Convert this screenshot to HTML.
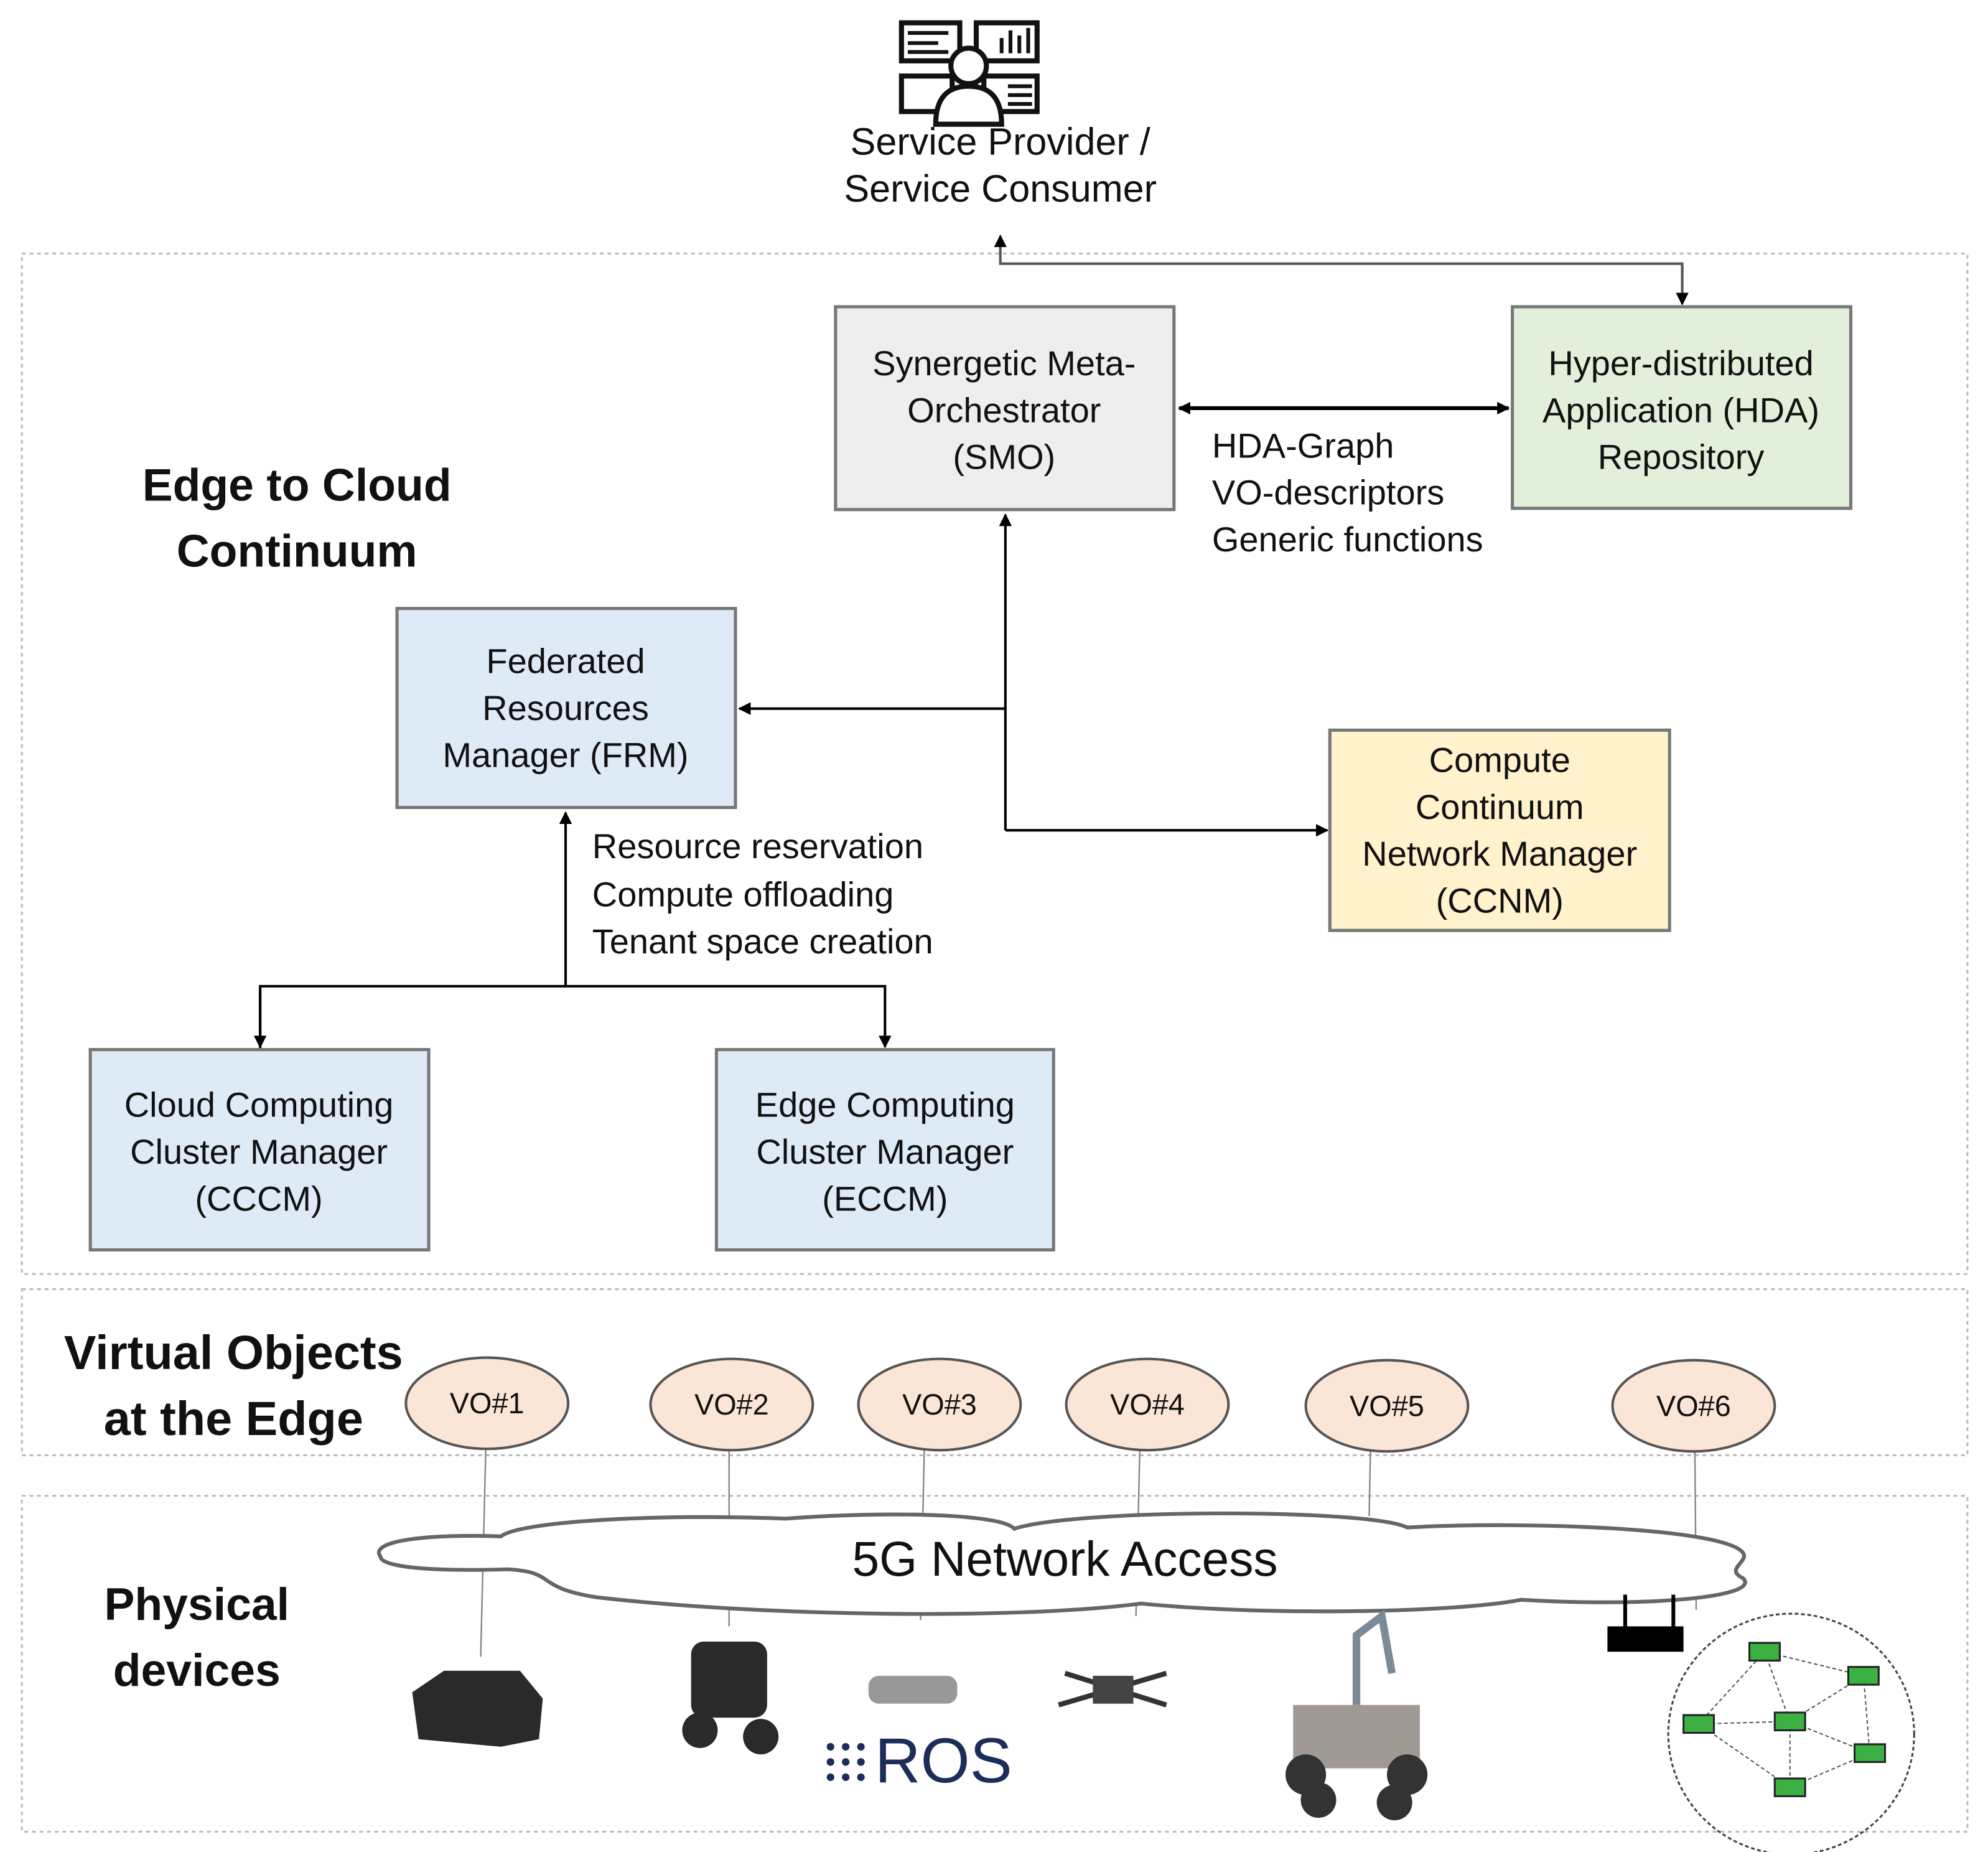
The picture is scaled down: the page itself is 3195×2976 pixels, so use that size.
<!DOCTYPE html>
<html><head><meta charset="utf-8"><style>
html,body{margin:0;padding:0;background:#fff}
svg{display:block}
text{font-family:"Liberation Sans",sans-serif;fill:#111}
.b{font-size:27.5px;text-anchor:middle}
.l{font-size:27.5px}
.h{font-size:36px;font-weight:bold;text-anchor:middle}
</style></head><body>
<svg width="3195" height="2976" viewBox="0 0 1568 1461" xmlns="http://www.w3.org/2000/svg">
<defs>
<marker id="a" markerWidth="10" markerHeight="10" refX="9" refY="5" orient="auto" markerUnits="userSpaceOnUse"><path d="M0,0 L10,5 L0,10 z" fill="#000"/></marker>
</defs>
<g fill="none" stroke="#bbb" stroke-width="1.5" stroke-dasharray="3,3">
<rect x="17" y="200" width="1535" height="805"/>
<rect x="17" y="1017" width="1535" height="131"/>
<rect x="17" y="1180" width="1535" height="265"/>
</g>
<g fill="none" stroke="#111" stroke-width="4">
<rect x="711" y="18" width="46" height="30"/>
<rect x="770" y="18" width="48" height="30"/>
<rect x="711" y="60" width="40" height="28"/>
<rect x="776" y="60" width="42" height="28"/>
<circle cx="764" cy="52" r="14" fill="#fff"/>
<path d="M738,98 Q738,68 764,68 Q790,68 790,98 Z" fill="#fff"/>
</g>
<g stroke="#111" stroke-width="3"><line x1="716" y1="26" x2="748" y2="26"/><line x1="716" y1="34" x2="740" y2="34"/><line x1="716" y1="41" x2="748" y2="41"/>
<line x1="790" y1="42" x2="790" y2="30"/><line x1="797" y1="42" x2="797" y2="24"/><line x1="804" y1="42" x2="804" y2="28"/><line x1="811" y1="42" x2="811" y2="22"/>
<line x1="795" y1="68" x2="814" y2="68"/><line x1="795" y1="75" x2="814" y2="75"/><line x1="795" y1="82" x2="814" y2="82"/></g>
<text class="b" x="789" y="122" style="font-size:30px">Service Provider /</text>
<text class="b" x="789" y="159" style="font-size:30px">Service Consumer</text>
<g stroke="#000" stroke-width="2" fill="none">
<path d="M1327,230 L1327,208 L789,208 L789,186" marker-end="url(#a)" stroke="#555"/>
<path d="M1327,210 L1327,240" marker-end="url(#a)" stroke="#555"/>
<line x1="940" y1="322" x2="1190" y2="322" marker-end="url(#a)" stroke-width="3"/>
<line x1="1180" y1="322" x2="930" y2="322" marker-end="url(#a)" stroke-width="3"/>
<path d="M793,655 L793,406" marker-end="url(#a)"/>
<path d="M793,559 L583,559" marker-end="url(#a)"/>
<path d="M793,655 L1047,655" marker-end="url(#a)"/>
<path d="M446,778 L446,641" marker-end="url(#a)"/>
<path d="M205,828 L205,778 L698,778 L698,826" marker-end="url(#a)"/>
<path d="M205,780 L205,826" marker-end="url(#a)"/>
</g>
<g stroke="#777" stroke-width="2.5">
<rect x="659" y="242" width="267" height="160" fill="#eeeeee"/>
<rect x="1193" y="242" width="267" height="159" fill="#e2efda"/>
<rect x="313" y="480" width="267" height="157" fill="#deebf7"/>
<rect x="1049" y="576" width="268" height="158" fill="#fff2cc"/>
<rect x="71" y="828" width="267" height="158" fill="#deebf7"/>
<rect x="565" y="828" width="266" height="158" fill="#deebf7"/>
</g>
<text class="b" x="792" y="296">Synergetic Meta-</text><text class="b" x="792" y="333">Orchestrator</text><text class="b" x="792" y="370">(SMO)</text>
<text class="b" x="1326" y="296">Hyper-distributed</text><text class="b" x="1326" y="333">Application (HDA)</text><text class="b" x="1326" y="370">Repository</text>
<text class="l" x="956" y="361">HDA-Graph</text><text class="l" x="956" y="398">VO-descriptors</text><text class="l" x="956" y="435">Generic functions</text>
<text class="h" x="234" y="395">Edge to Cloud</text><text class="h" x="234" y="447">Continuum</text>
<text class="b" x="446" y="531">Federated</text><text class="b" x="446" y="568">Resources</text><text class="b" x="446" y="605">Manager (FRM)</text>
<text class="b" x="1183" y="609">Compute</text><text class="b" x="1183" y="646">Continuum</text><text class="b" x="1183" y="683">Network Manager</text><text class="b" x="1183" y="720">(CCNM)</text>
<text class="l" x="467" y="677">Resource reservation</text><text class="l" x="467" y="715">Compute offloading</text><text class="l" x="467" y="752">Tenant space creation</text>
<text class="b" x="204" y="881">Cloud Computing</text><text class="b" x="204" y="918">Cluster Manager</text><text class="b" x="204" y="955">(CCCM)</text>
<text class="b" x="698" y="881">Edge Computing</text><text class="b" x="698" y="918">Cluster Manager</text><text class="b" x="698" y="955">(ECCM)</text>
<text class="h" x="184" y="1080" style="font-size:38px">Virtual Objects</text><text class="h" x="184" y="1132" style="font-size:38px">at the Edge</text>
<text class="h" x="155" y="1278">Physical</text><text class="h" x="155" y="1330">devices</text>
<g stroke="#888" stroke-width="1.2">
<line x1="383" y1="1144" x2="379" y2="1307"/><line x1="575" y1="1144" x2="575" y2="1283"/>
<line x1="729" y1="1144" x2="726" y2="1278"/><line x1="899" y1="1144" x2="896" y2="1275"/>
<line x1="1081" y1="1144" x2="1080" y2="1196"/><line x1="1337" y1="1144" x2="1338" y2="1270"/>
</g>
<path d="M300,1228 C290,1215 340,1210 395,1212 C410,1200 520,1194 620,1198 C700,1192 790,1194 800,1206 C850,1190 1080,1190 1110,1205 C1200,1200 1360,1205 1375,1225 C1380,1232 1360,1238 1375,1245 C1390,1260 1300,1268 1200,1262 C1150,1272 1000,1275 900,1265 C800,1278 600,1275 470,1260 C420,1252 440,1240 400,1238 C330,1240 300,1235 300,1228 Z" fill="#fff" stroke="#666" stroke-width="3"/>
<text x="840" y="1243" style="font-size:38.5px;text-anchor:middle">5G Network Access</text>
<g fill="#fbe5d6" stroke="#555" stroke-width="2">
<ellipse cx="384" cy="1107" rx="64" ry="36"/><ellipse cx="577" cy="1108" rx="64" ry="36"/>
<ellipse cx="741" cy="1108" rx="64" ry="36"/><ellipse cx="905" cy="1108" rx="64" ry="36"/>
<ellipse cx="1094" cy="1109" rx="64" ry="36"/><ellipse cx="1336" cy="1109" rx="64" ry="36"/>
</g>
<g style="font-size:23px;text-anchor:middle">
<text x="384" y="1115">VO#1</text><text x="577" y="1116">VO#2</text><text x="741" y="1116">VO#3</text>
<text x="905" y="1116">VO#4</text><text x="1094" y="1117">VO#5</text><text x="1336" y="1117">VO#6</text>
</g>
<g fill="#2a2a2a">
<path d="M325,1335 L350,1318 L410,1318 L428,1340 L425,1372 L395,1378 L330,1372 Z"/>
<rect x="545" y="1295" width="60" height="60" rx="10"/><circle cx="552" cy="1365" r="14"/><circle cx="600" cy="1370" r="14"/>
<rect x="685" y="1322" width="70" height="22" rx="8" fill="#999"/>
<rect x="1268" y="1283" width="60" height="20" fill="#000"/><line x1="1282" y1="1258" x2="1282" y2="1285" stroke="#000" stroke-width="3"/><line x1="1320" y1="1258" x2="1320" y2="1285" stroke="#000" stroke-width="3"/>
</g>
<g stroke="#333" stroke-width="4"><line x1="840" y1="1320" x2="920" y2="1345"/><line x1="835" y1="1345" x2="920" y2="1320"/></g>
<rect x="862" y="1322" width="32" height="22" fill="#444"/>
<rect x="1020" y="1345" width="100" height="50" fill="#a09a95"/>
<circle cx="1030" cy="1400" r="16" fill="#333"/><circle cx="1110" cy="1400" r="16" fill="#333"/><circle cx="1040" cy="1420" r="14" fill="#333"/><circle cx="1100" cy="1422" r="14" fill="#333"/>
<path d="M1070,1345 L1070,1290 L1090,1275 L1098,1320" stroke="#7a8a99" stroke-width="6" fill="none"/>
<g fill="#1c2d5a"><circle cx="655" cy="1378" r="3"/><circle cx="655" cy="1390" r="3"/><circle cx="655" cy="1402" r="3"/><circle cx="667" cy="1378" r="3"/><circle cx="667" cy="1390" r="3"/><circle cx="667" cy="1402" r="3"/><circle cx="679" cy="1378" r="3"/><circle cx="679" cy="1390" r="3"/><circle cx="679" cy="1402" r="3"/></g>
<text x="690" y="1406" style="font-size:50px;fill:#1c2d5a">ROS</text>
<ellipse cx="1413" cy="1368" rx="97" ry="95" fill="none" stroke="#444" stroke-width="1.5" stroke-dasharray="3,2"/>
<g stroke="#555" stroke-width="1" stroke-dasharray="3,2">
<line x1="1392" y1="1303" x2="1470" y2="1322"/><line x1="1392" y1="1303" x2="1340" y2="1360"/><line x1="1392" y1="1303" x2="1412" y2="1358"/>
<line x1="1470" y1="1322" x2="1412" y2="1358"/><line x1="1470" y1="1322" x2="1475" y2="1383"/><line x1="1340" y1="1360" x2="1412" y2="1358"/>
<line x1="1412" y1="1358" x2="1475" y2="1383"/><line x1="1412" y1="1358" x2="1412" y2="1410"/><line x1="1340" y1="1360" x2="1412" y2="1410"/><line x1="1475" y1="1383" x2="1412" y2="1410"/>
</g>
<g fill="#3cb043" stroke="#222" stroke-width="1.5">
<rect x="1380" y="1296" width="24" height="14"/><rect x="1458" y="1315" width="24" height="14"/><rect x="1328" y="1353" width="24" height="14"/>
<rect x="1400" y="1351" width="24" height="14"/><rect x="1463" y="1376" width="24" height="14"/><rect x="1400" y="1403" width="24" height="14"/>
</g>
</svg>
</body></html>
